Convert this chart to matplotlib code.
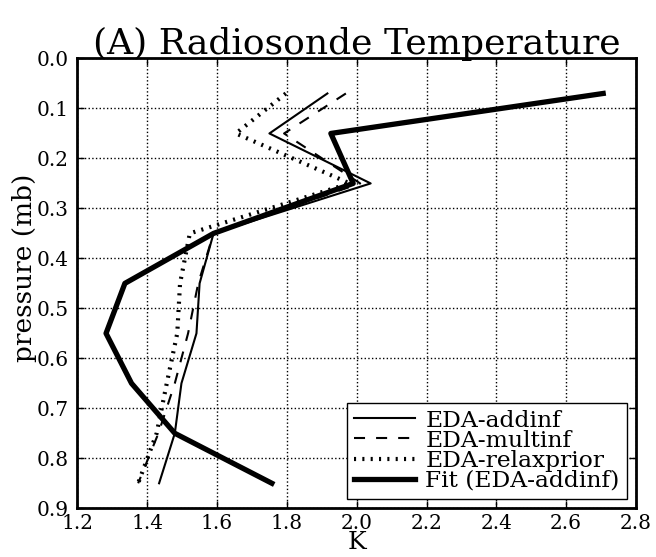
import matplotlib
matplotlib.use("Agg")
import matplotlib.pyplot as plt

# niveles de presión y perfiles (K)
pressure = [0.07, 0.15, 0.25, 0.35, 0.45, 0.55, 0.65, 0.75, 0.85]
addinf = [1.916, 1.75, 2.04, 1.59, 1.55, 1.541, 1.498, 1.479, 1.434]
multinf = [1.969, 1.792, 2.01, 1.59, 1.546, 1.517, 1.479, 1.432, 1.374]
relaxprior = [1.797, 1.654, 1.98, 1.522, 1.494, 1.486, 1.456, 1.427, 1.374]
fit_addinf = [2.706, 1.926, 1.99, 1.59, 1.336, 1.282, 1.355, 1.479, 1.757]

xticks = [1.2, 1.4, 1.6, 1.8, 2.0, 2.2, 2.4, 2.6, 2.8]
yticks = [0.0, 0.1, 0.2, 0.3, 0.4, 0.5, 0.6, 0.7, 0.8, 0.9]

plt.rcParams["font.family"] = "DejaVu Serif"
plt.rcParams["xtick.direction"] = "in"
plt.rcParams["ytick.direction"] = "in"

fig = plt.figure(figsize=(6.56, 5.57), dpi=100)
ax = fig.add_axes([0.118, 0.0875, 0.8515, 0.8075])

ax.plot(addinf, pressure, "k-", linewidth=1.5, label="EDA-addinf")
ax.plot(multinf, pressure, "k--", linewidth=1.5, dashes=(5.3, 5.3), label="EDA-multinf")
ax.plot(relaxprior, pressure, "k:", linewidth=3, dashes=(0.5, 1.5), label="EDA-relaxprior")
ax.plot(fit_addinf, pressure, "k-", linewidth=3.8, label="Fit (EDA-addinf)")

ax.set_xlim(1.2, 2.8)
ax.set_ylim(0.9, 0.0)
ax.set_xticks(xticks)
ax.set_yticks(yticks)
ax.set_xticklabels([f"{t:.1f}" for t in xticks])
ax.set_yticklabels([f"{t:.1f}" for t in yticks])
ax.tick_params(labelsize=14.5, top=True, right=True, length=5, width=1)
ax.tick_params(axis="x", pad=4)
ax.tick_params(axis="y", pad=6)
for s in ax.spines.values():
    s.set_linewidth(2)
ax.grid(True, color="black", linestyle=":", linewidth=1)

ax.set_xlabel("K", fontsize=18, labelpad=-1)
ax.set_ylabel("pressure (mb)", fontsize=19)
ax.yaxis.set_label_coords(-0.072, 0.535)
ax.set_title("(A) Radiosonde Temperature", fontsize=26, pad=3)

leg = ax.legend(loc="lower right", fontsize=16.8, handlelength=2.6, fancybox=False,
                borderpad=0.3, labelspacing=-0.08, handletextpad=0.45,
                borderaxespad=0.4, framealpha=1, edgecolor="black")
leg.get_frame().set_linewidth(1)

plt.savefig("out.png", dpi=100)
plt.close()
